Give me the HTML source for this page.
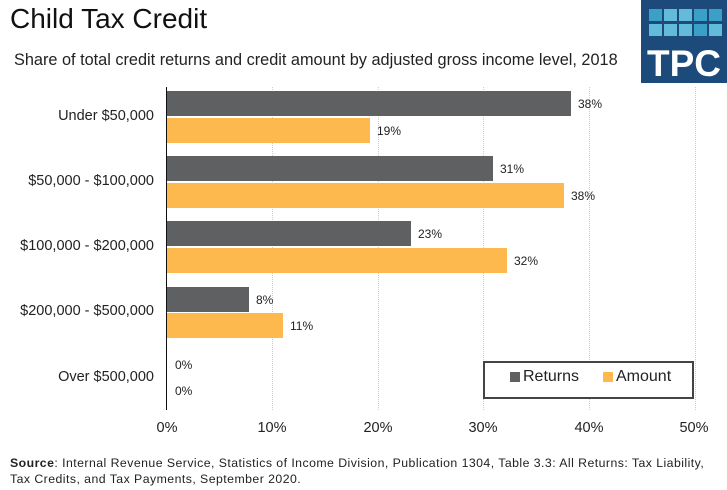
<!DOCTYPE html>
<html><head><style>
body{margin:0;width:727px;height:490px;background:#fff;font-family:"Liberation Sans",sans-serif;position:relative;overflow:hidden}
.a{position:absolute}
.lbl{font-size:14.5px;color:#222;text-align:right;width:154px;left:0px}
.v{font-size:12px;color:#222}
.g{position:absolute;top:87px;height:323px;border-left:1px dotted #ccc}
.t{font-size:14.5px;color:#222;top:420px;width:60px;text-align:center}
</style></head><body>
<div class="a" style="left:10px;top:3px;font-size:28px;color:#111">Child Tax Credit</div>
<div class="a" style="left:14px;top:51px;font-size:16.3px;color:#222;white-space:nowrap">Share of total credit returns and credit amount by adjusted gross income level, 2018</div>
<div class="a" style="left:641px;top:0;width:86px;height:83px;background:#1c4a7a">
<svg width="86" height="83">
<g fill="#3aa0c8"><rect x="8" y="9" width="13" height="12"/><rect x="23" y="9" width="13" height="12" fill="#62bcd9"/><rect x="38" y="9" width="13" height="12" fill="#62bcd9"/><rect x="53" y="9" width="13" height="12"/><rect x="68" y="9" width="13" height="12"/>
<rect x="8" y="24" width="13" height="12" fill="#62bcd9"/><rect x="23" y="24" width="13" height="12" fill="#62bcd9"/><rect x="38" y="24" width="13" height="12" fill="#62bcd9"/><rect x="53" y="24" width="13" height="12"/><rect x="68" y="24" width="13" height="12" fill="#62bcd9"/></g>
<text x="43" y="76" fill="#fff" font-size="37" font-weight="bold" text-anchor="middle" font-family="Liberation Sans">TPC</text></svg></div>
<div class="g" style="left:272px"></div><div class="g" style="left:378px"></div><div class="g" style="left:483px"></div><div class="g" style="left:589px"></div><div class="g" style="left:695px"></div>
<div class="a" style="left:166px;top:87px;width:1px;height:323px;background:#111"></div>
<div class="a lbl" style="top:108px">Under $50,000</div>
<div class="a lbl" style="top:173px">$50,000 - $100,000</div>
<div class="a lbl" style="top:238px">$100,000 - $200,000</div>
<div class="a lbl" style="top:303px">$200,000 - $500,000</div>
<div class="a lbl" style="top:369px">Over $500,000</div>
<div class="a" style="left:167px;top:91px;width:404px;height:25px;background:#5f6062"></div>
<div class="a" style="left:167px;top:118px;width:203px;height:25px;background:#fdb94e"></div>
<div class="a" style="left:167px;top:156px;width:326px;height:25px;background:#5f6062"></div>
<div class="a" style="left:167px;top:183px;width:397px;height:25px;background:#fdb94e"></div>
<div class="a" style="left:167px;top:221px;width:244px;height:25px;background:#5f6062"></div>
<div class="a" style="left:167px;top:248px;width:340px;height:25px;background:#fdb94e"></div>
<div class="a" style="left:167px;top:287px;width:82px;height:25px;background:#5f6062"></div>
<div class="a" style="left:167px;top:313px;width:116px;height:25px;background:#fdb94e"></div>
<div class="a v" style="left:578px;top:97px">38%</div>
<div class="a v" style="left:377px;top:124px">19%</div>
<div class="a v" style="left:500px;top:162px">31%</div>
<div class="a v" style="left:571px;top:189px">38%</div>
<div class="a v" style="left:418px;top:227px">23%</div>
<div class="a v" style="left:514px;top:254px">32%</div>
<div class="a v" style="left:256px;top:293px">8%</div>
<div class="a v" style="left:290px;top:319px">11%</div>
<div class="a v" style="left:175px;top:358px">0%</div>
<div class="a v" style="left:175px;top:384px">0%</div>
<div class="a" style="left:483px;top:361px;width:207px;height:34px;border:2px solid #444;background:#fff"></div>
<div class="a" style="left:510px;top:372px;width:10px;height:10px;background:#5f6062"></div>
<div class="a" style="left:523px;top:368px;font-size:16px;color:#222">Returns</div>
<div class="a" style="left:603px;top:372px;width:10px;height:10px;background:#fdb94e"></div>
<div class="a" style="left:616px;top:368px;font-size:16px;color:#222">Amount</div>
<div class="a t" style="left:137px">0%</div><div class="a t" style="left:242px">10%</div><div class="a t" style="left:348px">20%</div><div class="a t" style="left:453px">30%</div><div class="a t" style="left:559px">40%</div><div class="a t" style="left:664px">50%</div>
<div class="a" style="left:10px;top:455px;font-size:12.3px;letter-spacing:0.45px;color:#222;line-height:16px;width:717px;white-space:nowrap"><b>Source</b>: Internal Revenue Service, Statistics of Income Division, Publication 1304, Table 3.3: All Returns: Tax Liability,<br>Tax Credits, and Tax Payments, September 2020.</div>
</body></html>
